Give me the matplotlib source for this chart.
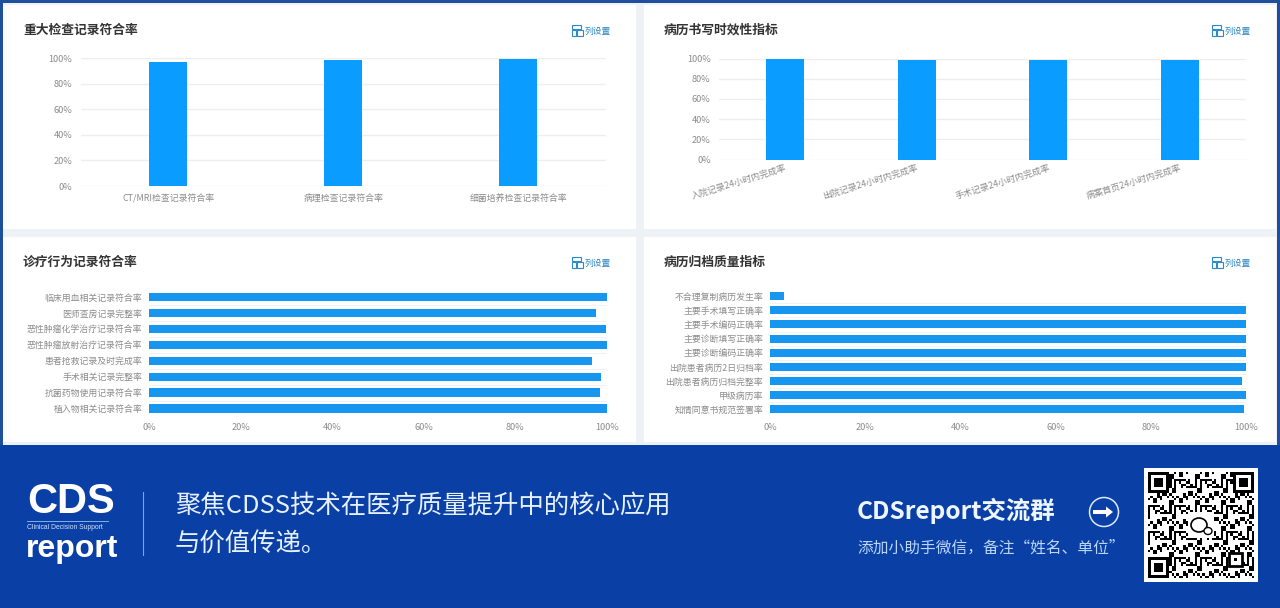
import matplotlib
matplotlib.use('Agg')
import matplotlib.pyplot as plt
import matplotlib.patches as patches
import numpy as np

plt.rcParams['font.family'] = ['Noto Sans CJK SC', 'DejaVu Sans']

W, H = 1280, 608

# chart data
exam_labels = ['CT/MRI检查记录符合率', '病理检查记录符合率', '细菌培养检查记录符合率']
exam_values = [97.2, 98.7, 99.6]

time_labels = ['入院记录24小时内完成率', '出院记录24小时内完成率', '手术记录24小时内完成率', '病案首页24小时内完成率']
time_values = [100, 98.9, 98.5, 98.7]

care_labels = ['临床用血相关记录符合率', '医师查房记录完整率', '恶性肿瘤化学治疗记录符合率', '恶性肿瘤放射治疗记录符合率',
               '患者抢救记录及时完成率', '手术相关记录完整率', '抗菌药物使用记录符合率', '植入物相关记录符合率']
care_values = [100, 97.6, 99.8, 100, 96.7, 98.6, 98.5, 100]

archive_labels = ['不合理复制病历发生率', '主要手术填写正确率', '主要手术编码正确率', '主要诊断填写正确率', '主要诊断编码正确率',
                  '出院患者病历2日归档率', '出院患者病历归档完整率', '甲级病历率', '知情同意书规范签署率']
archive_values = [3, 100, 100, 100, 100, 100, 99.2, 99.9, 99.5]

pct_ticks = [0, 20, 40, 60, 80, 100]
pct_labels = ['0%', '20%', '40%', '60%', '80%', '100%']

BAR_V = '#0a9dff'
BAR_H = '#1696ee'
GRID = '#eeeeee'
TICK = '#8c8c8c'
BAND = '#0a3fa6'

fig = plt.figure(figsize=(W / 100, H / 100), dpi=100, facecolor='#eef1f5')

# full-size overlay in pixel coordinates for cards, titles and the banner
bg = fig.add_axes([0, 0, 1, 1], zorder=0)
bg.set_xlim(0, W)
bg.set_ylim(H, 0)
bg.axis('off')


def px_axes(x0, y0, x1, y1):
    a = fig.add_axes([x0 / W, 1 - y1 / H, (x1 - x0) / W, (y1 - y0) / H], zorder=2)
    a.patch.set_alpha(0)
    for s in a.spines.values():
        s.set_visible(False)
    return a


# frame and cards
bg.add_patch(patches.Rectangle((0, 0), W, 445, fc='#1f4e9c', ec='none'))
bg.add_patch(patches.Rectangle((3, 3), W - 6, 442, fc='#eef1f5', ec='none'))
cards = [(3, 5, 636, 229), (644, 5, 1276, 229), (3, 237, 636, 442), (644, 237, 1276, 442)]
titles = ['重大检查记录符合率', '病历书写时效性指标', '诊疗行为记录符合率', '病历归档质量指标']
for (x0, y0, x1, y1), t in zip(cards, titles):
    bg.add_patch(patches.Rectangle((x0, y0), x1 - x0, y1 - y0, fc='white', ec='none'))
    bg.text(x0 + 20, y0 + 25, t, fontsize=9.2, fontweight='bold', color='#333333', va='center', ha='left')
    # column settings link
    ix = x1 - 64
    iy = y0 + 20
    bg.add_patch(patches.Rectangle((ix, iy), 9, 4, fc='none', ec='#2b87c8', lw=0.8))
    bg.add_patch(patches.Rectangle((ix, iy + 5), 4, 6, fc='none', ec='#2b87c8', lw=0.8))
    bg.add_patch(patches.Rectangle((ix + 5, iy + 5), 6, 6, fc='none', ec='#2b87c8', lw=0.8))
    bg.text(ix + 13, iy + 6, '列设置', fontsize=6.3, color='#2b87c8', va='center', ha='left')


def vbars(box, labels, values, rotate=False):
    a = px_axes(*box)
    x = np.arange(len(labels))
    a.bar(x, values, width=0.217 if len(labels) == 3 else 0.289, color=BAR_V, zorder=3)
    a.set_xlim(-0.5, len(labels) - 0.5)
    a.set_ylim(0, 100)
    a.set_yticks(pct_ticks, pct_labels)
    a.yaxis.grid(True, color=GRID, lw=1)
    a.set_axisbelow(True)
    a.tick_params(axis='both', length=0, labelsize=6.6, labelcolor=TICK, pad=6)
    if rotate:
        a.set_xticks(x, labels, rotation=17, ha='right', rotation_mode='anchor', fontsize=6.4)
        a.tick_params(axis='x', pad=3)
        for lb in a.get_xticklabels():
            lb.set_x(lb.get_position()[0])
    else:
        a.set_xticks(x, labels, fontsize=6.4)
    return a


def hbars(box, labels, values, bar_h):
    a = px_axes(*box)
    y = np.arange(len(labels))
    a.barh(y, values, height=bar_h, color=BAR_H, zorder=3)
    a.set_ylim(len(labels) - 0.5, -0.5)
    a.set_xlim(0, 100)
    a.set_yticks(y, labels, fontsize=6.4)
    a.set_xticks(pct_ticks, pct_labels, fontsize=6.6)
    a.set_yticks(y[:-1] + 0.5, minor=True)
    a.yaxis.grid(True, which='minor', color='#f0f4f8', lw=0.8)
    a.set_axisbelow(True)
    a.tick_params(axis='both', which='both', length=0, labelcolor=TICK)
    a.tick_params(axis='y', pad=5)
    a.tick_params(axis='x', pad=5)
    return a


vbars((80.5, 58, 606, 186), exam_labels, exam_values)
vbars((719, 58.5, 1246, 159.5), time_labels, time_values, rotate=True)
hbars((149, 289, 607, 416.5), care_labels, care_values, 0.52)
hbars((770, 289, 1246, 416.5), archive_labels, archive_values, 0.56)

# banner
bg.add_patch(patches.Rectangle((0, 445), W, H - 445, fc=BAND, ec='none'))
bg.text(27, 502, 'CDS', fontsize=30, fontweight='bold', color='white', va='center', ha='left',
        family=['Liberation Sans', 'DejaVu Sans'])
bg.plot([27, 108], [521, 521], color='#7fb2ee', lw=0.7)
bg.text(27, 527.5, 'Clinical Decision Support', fontsize=4.9, color='#cfe2fa', va='center', ha='left',
        family=['Liberation Sans Narrow', 'Liberation Sans'])
bg.text(26, 549, 'report', fontsize=23, fontweight='bold', color='white', va='center', ha='left',
        family=['Liberation Sans Narrow', 'Liberation Sans'])
bg.plot([143, 143], [492, 555], color='#7fa3dc', lw=0.8)
bg.text(175, 506, '聚焦CDSS技术在医疗质量提升中的核心应用', fontsize=18.3, color='#e6f1ff', va='center', ha='left')
bg.text(175, 544, '与价值传递。', fontsize=18.3, color='#e6f1ff', va='center', ha='left')

bg.text(857, 511, 'CDSreport交流群', fontsize=17.6, fontweight='bold', color='#eef6ff', va='center', ha='left')
bg.add_patch(patches.Circle((1104, 512), 14.5, fc='none', ec='#dcebff', lw=1.1))
bg.add_patch(patches.FancyArrow(1093, 512, 20, 0, width=4, head_width=11, head_length=7,
                                length_includes_head=True, fc='white', ec='none'))
bg.text(857, 548, '添加小助手微信，备注“姓名、单位”', fontsize=11.3, color='#b9d6fb', va='center', ha='left')

# QR code block, only a texture
qx0, qy0, qx1, qy1 = 1144, 468, 1258, 582
bg.add_patch(patches.Rectangle((qx0, qy0), qx1 - qx0, qy1 - qy0, fc='white', ec='none'))
n = 45
ii, jj = np.meshgrid(np.arange(n), np.arange(n))
qr = ((ii * ii * 3 + jj * jj * 5 + ii * jj + ii * 7) % 11 < 5).astype(float)
for r0, c0 in [(0, 0), (0, n - 9), (n - 9, 0)]:
    qr[r0:r0 + 9, c0:c0 + 9] = 0
qr[17:28, 17:28] = 0
bg.imshow(1 - qr, cmap='gray', vmin=0, vmax=1, extent=(qx0 + 4, qx1 - 4, qy1 - 4, qy0 + 4),
          interpolation='nearest', aspect='auto', zorder=2)
bg.set_xlim(0, W)
bg.set_ylim(H, 0)
for fx, fy in [(qx0 + 4, qy0 + 4), (qx1 - 25, qy0 + 4), (qx0 + 4, qy1 - 25)]:
    bg.add_patch(patches.Rectangle((fx, fy), 21, 21, fc='black', ec='none', zorder=3))
    bg.add_patch(patches.Rectangle((fx + 3, fy + 3), 15, 15, fc='white', ec='none', zorder=3))
    bg.add_patch(patches.Rectangle((fx + 6, fy + 6), 9, 9, fc='black', ec='none', zorder=3))
bg.add_patch(patches.Rectangle((1229, 553), 13, 13, fc='white', ec='black', lw=2, zorder=3))
bg.add_patch(patches.Rectangle((1234, 558), 3, 3, fc='black', ec='none', zorder=3))
bg.add_patch(patches.Ellipse((1199, 525), 16, 14, fc='white', ec='black', lw=1.2, zorder=3))
bg.add_patch(patches.Ellipse((1208, 531), 8, 7, fc='white', ec='black', lw=1, zorder=3))

fig.savefig('out.png', dpi=100, facecolor=fig.get_facecolor())
